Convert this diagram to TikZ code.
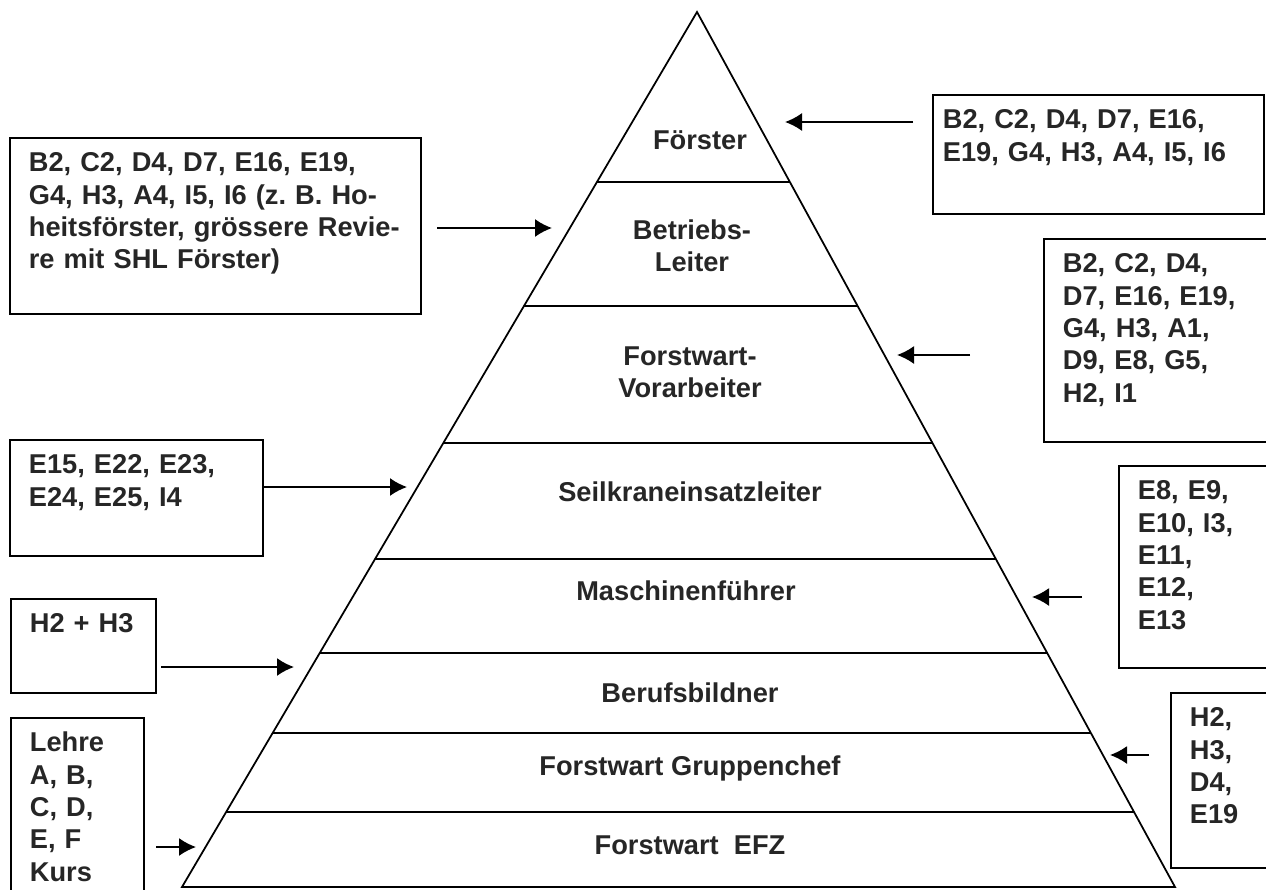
\documentclass[tikz,border=0pt]{standalone}
\usepackage{fontspec}
\setmainfont{Liberation Sans}
\usetikzlibrary{calc,arrows.meta}
\frenchspacing
\begin{document}
\begin{tikzpicture}
	[x=0.02cm,y=-0.02cm,line width=1pt,
	every node/.style={font=\bfseries\fontsize{15.5}{18.4}\selectfont,text=black!85},
	tier/.style={align=center,inner sep=0pt},
	infobox/.style 2 args={draw,anchor=north west,align=left,inner xsep=0.38cm,inner ysep=0.3cm,text height=0.38cm,text width=#1,text depth=#2},
	>={Latex[length=0.34cm,width=0.36cm]}]
	\clip(0,0)rectangle(1266,889);
	% pyramid
	\coordinate(apex)at(697,12);
	\coordinate(bl)at(182,887);
	\coordinate(br)at(1175,887);
	\draw(apex)--(bl)--(br)--cycle;
	\foreach \y in {182,306,443,559,653,733,812}
		\draw($(apex)!{(\y-12)/875}!(bl)$)--($(apex)!{(\y-12)/875}!(br)$);
	\node[tier,name=t1]at(700,140){F\"orster};
	\node[tier,name=t2]at(692,246){Betriebs-\\Leiter};
	\node[tier,name=t3]at(690,372){Forstwart-\\Vorarbeiter};
	\node[tier,name=t4]at(690,492){Seilkraneinsatzleiter};
	\node[tier,name=t5]at(686,591){Maschinenf\"uhrer};
	\node[tier,name=t6]at(690,693){Berufsbildner};
	\node[tier,name=t7]at(690,768){Forstwart Gruppenchef};
	\node[tier,name=t8]at(690,845){Forstwart\ \ EFZ};
	% boxes left
	\node[infobox={7.46cm}{2.54cm},name=lb1]at(9,137){B2, C2, D4, D7, E16, E19,\\G4, H3, A4, I5, I6 (z. B. Ho-\\heitsf\"orster, gr\"ossere Revie-\\re mit SHL F\"orster)};
	\node[infobox={4.30cm}{1.34cm},name=lb2]at(9,439){E15, E22, E23,\\E24, E25, I4};
	\node[infobox={2.14cm}{0.90cm},name=lb3]at(10,598){H2 + H3};
	\node[infobox={1.90cm}{3.02cm},name=lb4]at(10,717){Lehre\\A, B,\\C, D,\\E, F\\Kurs};
	% boxes right
	\node[infobox={6.22cm}{1.40cm},inner xsep=0.2cm,name=rb1]at(932,94){B2, C2, D4, D7, E16,\\E19, G4, H3, A4, I5, I6};
	\node[infobox={4.04cm}{3.08cm},name=rb2]at(1043,238){B2, C2, D4,\\D7, E16, E19,\\G4, H3, A1,\\D9, E8, G5,\\H2, I1};
	\node[infobox={2.44cm}{3.06cm},name=rb3]at(1118,465){E8, E9,\\E10, I3,\\E11,\\E12,\\E13};
	\node[infobox={1.44cm}{2.52cm},name=rb4]at(1170,692){H2,\\H3,\\D4,\\E19};
	% arrows
	\coordinate(a1)at(437,228);\coordinate(b1)at(552,228);
	\coordinate(a2)at(lb2.east|-0,487);\coordinate(b2)at(407,487);
	\coordinate(a3)at(161,667);\coordinate(b3)at(294,667);
	\coordinate(a4)at(156,847);\coordinate(b4)at(196,847);
	\coordinate(a5)at(913,122);\coordinate(b5)at(785,122);
	\coordinate(a6)at(970,355);\coordinate(b6)at(897,355);
	\coordinate(a7)at(1082,597);\coordinate(b7)at(1032,597);
	\coordinate(a8)at(1149,755);\coordinate(b8)at(1110,755);
	\foreach \i in {1,...,8}
		\draw[->](a\i)--(b\i);
\end{tikzpicture}
\end{document}
